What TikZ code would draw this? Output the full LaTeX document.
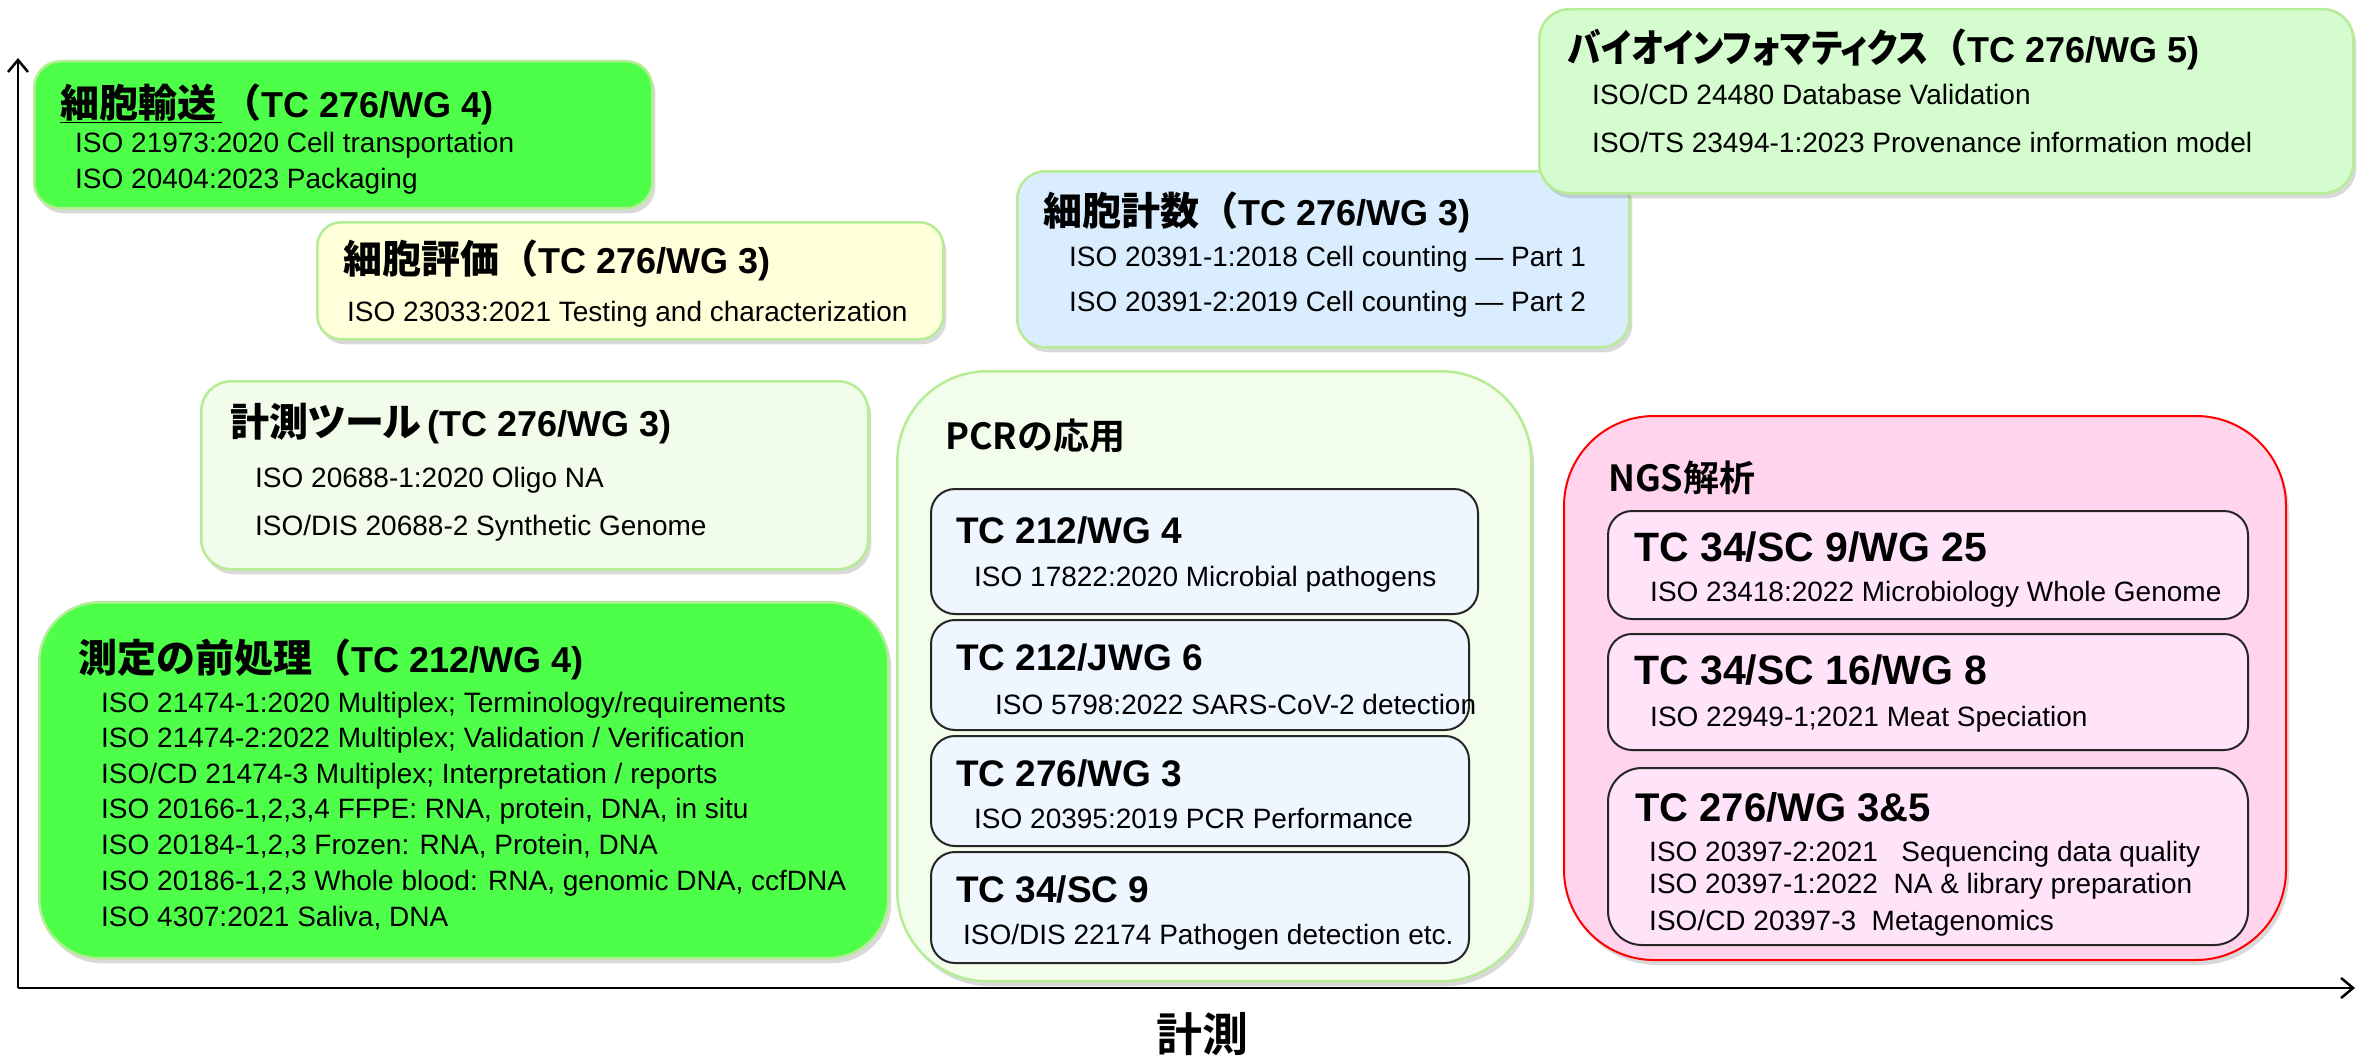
\documentclass[tikz,border=0pt]{standalone}
\usepackage{fontspec}
\setmainfont{Liberation Sans}
\newfontfamily\jpf{Noto Sans CJK JP Bold}
\newfontfamily\jpp{Noto Sans CJK JP Bold}[RawFeature=+palt]
\newfontfamily\jpn{Noto Sans CJK JP Bold}[RawFeature=+palt, FakeStretch=0.86]
\usetikzlibrary{shadows,arrows.meta}
\definecolor{vgreen}{RGB}{77,255,72}
\definecolor{lgb}{RGB}{182,236,150}
\definecolor{yel}{RGB}{255,255,218}
\definecolor{blu}{RGB}{218,237,254}
\definecolor{mint}{RGB}{212,252,206}
\definecolor{pale}{RGB}{241,252,234}
\definecolor{pcrfill}{RGB}{242,253,236}
\definecolor{pcrin}{RGB}{238,246,255}
\definecolor{ngsfill}{RGB}{255,212,236}
\definecolor{ngsin}{RGB}{255,228,249}
\newcommand\JP[1]{{\jpf\fontsize{39}{40}\selectfont #1}}
\newcommand\JPP[1]{{\jpp\fontsize{39}{40}\selectfont #1}}
\newcommand\JPN[1]{{\jpn\fontsize{39}{40}\selectfont #1}}
\begin{document}
\begin{tikzpicture}[x=1pt,y=-1pt,
  box/.style={draw=lgb, line width=2.5pt, rounded corners=#1, anchor=north west, inner sep=0pt,
    drop shadow={shadow xshift=3pt, shadow yshift=-5pt, opacity=0.3}},
  inbox/.style={draw=black!85, line width=2pt, rounded corners=24pt, anchor=north west, inner sep=0pt},
  hdr/.style={anchor=base west, inner sep=0pt, font=\bfseries\fontsize{36}{40}\selectfont},
  bhdr/.style={anchor=base west, inner sep=0pt, font=\bfseries\fontsize{37}{40}\selectfont},
  nhdr/.style={anchor=base west, inner sep=0pt, font=\bfseries\fontsize{40}{44}\selectfont},
  jhdr/.style={anchor=base west, inner sep=0pt, font=\jpf\fontsize{36}{40}\selectfont},
  bod/.style={anchor=base west, inner sep=0pt, font=\fontsize{28}{32}\selectfont},
  axis/.style={line width=2.5pt, -{Straight Barb[length=12pt,width=20pt,line width=2.5pt]}}
]
\useasboundingbox (0,0) rectangle (2357,1057);

% axes
\coordinate (o) at (18,988);
\coordinate (ytop) at (18,58);
\coordinate (xend) at (2355,988);
\draw[axis] (o) -- (ytop);
\draw[axis] (o) -- (xend);
\node[inner sep=0pt, font=\jpf\fontsize{46}{50}\selectfont] (xl) at (1202,1034) {計測};

% 細胞輸送
\node[box=26pt, fill=vgreen, minimum width=618pt, minimum height=147pt] (b1) at (33,60) {};
\node[hdr] (h1) at (60,117) {\underline{\JP{細胞輸送}\hspace{6pt}}\JP{（}TC 276/WG 4)};
\node[bod] (t1a) at (75,152) {ISO 21973:2020 Cell transportation};
\node[bod] (t1b) at (75,188) {ISO 20404:2023 Packaging};

% 細胞評価
\node[box=24pt, fill=yel, minimum width=626pt, minimum height=117pt] (b2) at (316,221) {};
\node[hdr] (h2) at (343,273) {\JP{細胞評価（}TC 276/WG 3)};
\node[bod] (t2a) at (347,321) {ISO 23033:2021 Testing and characterization};

% 計測ツール
\node[box=30pt, fill=pale, minimum width=667pt, minimum height=188pt] (b3) at (200,380) {};
\node[hdr] (h3) at (230,436) {\JPP{計測ツール}\,(TC 276/WG 3)};
\node[bod] (t3a) at (255,487) {ISO 20688-1:2020 Oligo NA};
\node[bod] (t3b) at (255,535) {ISO/DIS 20688-2 Synthetic Genome};

% 測定の前処理
\node[box=60pt, fill=vgreen, minimum width=849pt, minimum height=356pt] (b4) at (38,601) {};
\node[hdr] (h4) at (78,672) {\JP{測定の前処理（}TC 212/WG 4)};
\node[bod] (t4a) at (101,712) {ISO 21474-1:2020 Multiplex; Terminology/requirements};
\node[bod] (t4b) at (101,747) {ISO 21474-2:2022 Multiplex; Validation / Verification};
\node[bod] (t4c) at (101,783) {ISO/CD 21474-3 Multiplex; Interpretation / reports};
\node[bod] (t4d) at (101,818) {ISO 20166-1,2,3,4 FFPE: RNA, protein, DNA, in situ};
\node[bod] (t4e) at (101,854) {ISO 20184-1,2,3 Frozen: RNA, Protein, DNA};
\node[bod] (t4f) at (101,890) {ISO 20186-1,2,3 Whole blood: RNA, genomic DNA, ccfDNA};
\node[bod] (t4g) at (101,926) {ISO 4307:2021 Saliva, DNA};

% PCRの応用
\node[box=90pt, fill=pcrfill, minimum width=634pt, minimum height=610pt] (b5) at (896,370) {};
\node[jhdr] (h5) at (945,449) {PCRの応用};
\node[inbox, fill=pcrin, minimum width=547pt, minimum height=125pt] (p1) at (930,488) {};
\node[bhdr] (p1h) at (956,543) {TC 212/WG 4};
\node[bod] (p1t) at (974,586) {ISO 17822:2020 Microbial pathogens};
\node[inbox, fill=pcrin, minimum width=538pt, minimum height=110pt] (p2) at (930,619) {};
\node[bhdr] (p2h) at (956,670) {TC 212/JWG 6};
\node[bod] (p2t) at (995,714) {ISO 5798:2022 SARS-CoV-2 detection};
\node[inbox, fill=pcrin, minimum width=538pt, minimum height=110pt] (p3) at (930,735) {};
\node[bhdr] (p3h) at (956,786) {TC 276/WG 3};
\node[bod] (p3t) at (974,828) {ISO 20395:2019 PCR Performance};
\node[inbox, fill=pcrin, minimum width=538pt, minimum height=111pt] (p4) at (930,851) {};
\node[bhdr] (p4h) at (956,902) {TC 34/SC 9};
\node[bod] (p4t) at (963,944) {ISO/DIS 22174 Pathogen detection etc.};

% 細胞計数
\node[box=28pt, fill=blu, minimum width=612pt, minimum height=176pt] (b6) at (1016,170) {};
\node[hdr] (h6) at (1043,225) {\JP{細胞計数（}TC 276/WG 3)};
\node[bod] (t6a) at (1069,266) {ISO 20391-1:2018 Cell counting --- Part 1};
\node[bod] (t6b) at (1069,311) {ISO 20391-2:2019 Cell counting --- Part 2};

% バイオインフォマティクス
\node[box=30pt, fill=mint, minimum width=814pt, minimum height=184pt] (b7) at (1538,8) {};
\node[hdr] (h7) at (1568,63) {\JPN{バイオインフォマティクス}\JP{（}TC 276/WG 5)};
\node[bod] (t7a) at (1592,104) {ISO/CD 24480 Database Validation};
\node[bod] (t7b) at (1592,152) {ISO/TS 23494-1:2023 Provenance information model};

% NGS解析
\node[box=90pt, draw=red, line width=2pt, fill=ngsfill, minimum width=722pt, minimum height=544pt] (b8) at (1563,415) {};
\node[jhdr] (h8) at (1608,491) {NGS解析};
\node[inbox, fill=ngsin, minimum width=640pt, minimum height=108pt] (n1) at (1607,510) {};
\node[nhdr, font=\bfseries\fontsize{41}{44}\selectfont] (n1h) at (1634,561) {TC 34/SC 9/WG 25};
\node[bod] (n1t) at (1650,601) {ISO 23418:2022 Microbiology Whole Genome};
\node[inbox, fill=ngsin, minimum width=640pt, minimum height=116pt] (n2) at (1607,633) {};
\node[nhdr, font=\bfseries\fontsize{41}{44}\selectfont] (n2h) at (1634,684) {TC 34/SC 16/WG 8};
\node[bod] (n2t) at (1650,726) {ISO 22949-1;2021 Meat Speciation};
\node[inbox, rounded corners=34pt, fill=ngsin, minimum width=640pt, minimum height=177pt] (n3) at (1607,767) {};
\node[nhdr] (n3h) at (1635,821) {TC 276/WG 3\&5};
\node[bod] (n3a) at (1649,861) {ISO 20397-2:2021~~ Sequencing data quality};
\node[bod] (n3b) at (1649,893) {ISO 20397-1:2022~ NA \& library preparation};
\node[bod] (n3c) at (1649,930) {ISO/CD 20397-3~ Metagenomics};
\end{tikzpicture}
\end{document}
